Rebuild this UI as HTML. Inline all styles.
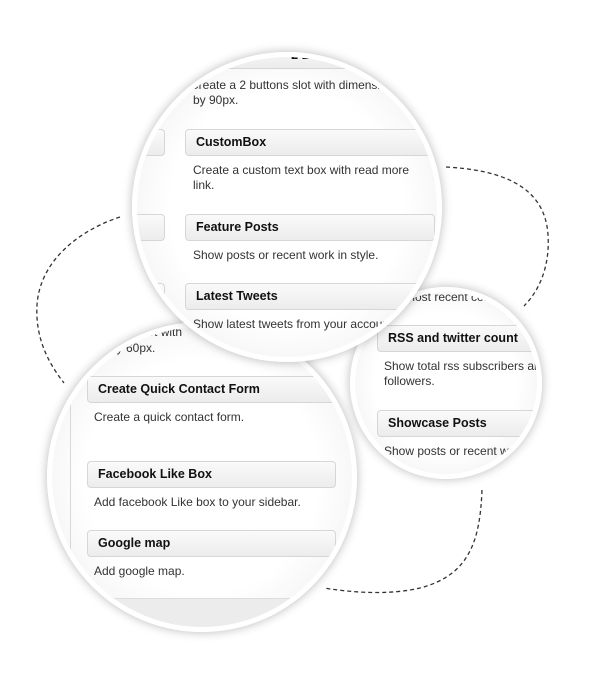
<!DOCTYPE html>
<html><head><meta charset="utf-8"><style>
body{margin:0;width:591px;height:697px;background:#fff;position:relative;overflow:hidden;font-family:"Liberation Sans",sans-serif;}
.c{position:absolute;border-radius:50%;overflow:hidden;border:5px solid #fff;box-sizing:border-box;
 box-shadow:0 0 10px rgba(0,0,0,0.28);background:radial-gradient(circle,#fff 55%,#f1f1f1 85%,#e2e2e2 100%);}
.in{position:absolute;}
.b{position:absolute;height:27px;border:1px solid #d6d6d6;border-radius:4px;box-sizing:border-box;
 background:linear-gradient(#fafafa,#ececec);font-weight:bold;font-size:12.5px;color:#111;padding-left:10px;line-height:25px;}
.t{position:absolute;font-size:12px;color:#333;white-space:nowrap;line-height:15px;}
svg{position:absolute;left:0;top:0}
</style></head><body>
<svg width="591" height="697">
<g fill="none" stroke="#333" stroke-width="1.3" stroke-dasharray="4,3">
<path d="M120 217 C80 230 40 260 37 305 C35 340 50 365 64 383"/>
<path d="M446 167 C500 170 545 185 548 235 C550 265 540 290 524 306"/>
<path d="M482 490 C480 540 470 575 420 588 C390 595 355 593 324 588"/>
</g></svg>

<div class="c" style="left:47px;top:322px;width:310px;height:310px;">
 <div class="in" style="left:-52px;top:-327px;width:591px;height:697px;">
  <div class="t" style="left:88px;top:325px;">...banner slot with</div>
  <div class="t" style="left:110px;top:341px;">by 60px.</div>
  <div style="position:absolute;left:70px;top:403px;width:1px;height:200px;background:#d8d8d8"></div>
  <div style="position:absolute;left:40px;top:598px;width:340px;height:60px;background:#ececec;border-top:1px solid #ddd"></div>
  <div class="b" style="left:87px;top:376px;width:250px;">Create Quick Contact Form</div>
  <div class="t" style="left:94px;top:410px;">Create a quick contact form.</div>
  <div class="b" style="left:87px;top:461px;width:249px;">Facebook Like Box</div>
  <div class="t" style="left:94px;top:495px;">Add facebook Like box to your sidebar.</div>
  <div class="b" style="left:87px;top:530px;width:249px;">Google map</div>
  <div class="t" style="left:94px;top:564px;">Add google map.</div>
 </div>
</div>

<div class="c" style="left:350px;top:287px;width:192px;height:192px;">
 <div class="in" style="left:-355px;top:-292px;width:591px;height:697px;">
  <div class="t" style="left:405px;top:290px;">most recent comments</div>
  <div class="b" style="left:377px;top:325px;width:190px;">RSS and twitter count</div>
  <div class="t" style="left:384px;top:359px;">Show total rss subscribers and</div>
  <div class="t" style="left:384px;top:374px;">followers.</div>
  <div class="b" style="left:377px;top:410px;width:190px;">Showcase Posts</div>
  <div class="t" style="left:384px;top:444px;">Show posts or recent work</div>
 </div>
</div>

<div class="c" style="left:132px;top:52px;width:310px;height:310px;">
 <div class="in" style="left:-137px;top:-57px;width:591px;height:697px;">
  <div class="b" style="left:185px;top:42px;width:260px;text-align:center">2 Buttons</div>
  <div class="t" style="left:190px;top:78px;">Create a 2 buttons slot with dimensions</div>
  <div class="t" style="left:193px;top:93px;">by 90px.</div>
  <div class="b" style="left:100px;top:129px;width:65px;"></div>
  <div class="b" style="left:185px;top:129px;width:260px;">CustomBox</div>
  <div class="t" style="left:193px;top:163px;">Create a custom text box with read more</div>
  <div class="t" style="left:193px;top:178px;">link.</div>
  <div class="b" style="left:100px;top:214px;width:65px;"></div>
  <div class="b" style="left:185px;top:214px;width:250px;">Feature Posts</div>
  <div class="t" style="left:193px;top:248px;">Show posts or recent work in style.</div>
  <div class="b" style="left:100px;top:283px;width:65px;"></div>
  <div class="b" style="left:185px;top:283px;width:260px;">Latest Tweets</div>
  <div class="t" style="left:193px;top:317px;">Show latest tweets from your account</div>
 </div>
</div>
</body></html>
